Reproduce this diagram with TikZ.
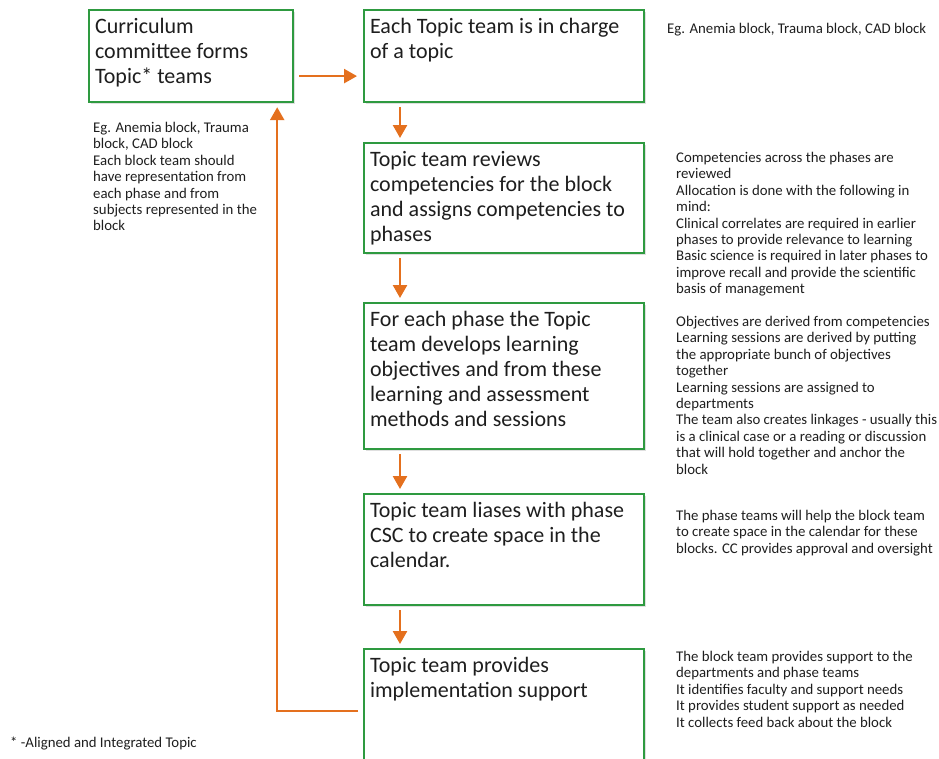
\documentclass[tikz,border=0pt]{standalone}
\usepackage{fontspec}
\setmainfont{Carlito}
\usetikzlibrary{arrows.meta,shadows}
\definecolor{boxgreen}{RGB}{46,154,64}
\definecolor{floworange}{RGB}{228,112,30}
\definecolor{inkgray}{RGB}{30,30,30}
\newcommand{\boxtxt}[3]{\parbox[t][#1pt][t]{#2pt}{\fontsize{22}{25}\selectfont\raggedright #3}}

\begin{document}
\begin{tikzpicture}[x=1pt,y=-1pt,
  stepbox/.style={draw=boxgreen, line width=2.2pt, fill=white, text=inkgray,
    inner xsep=6pt, inner ysep=8pt, anchor=north west,
    drop shadow={opacity=0.25, shadow xshift=1.5pt, shadow yshift=-1.5pt}},
  note/.style={anchor=north west, inner sep=0pt, align=left, text=inkgray,
    font=\fontsize{14.8}{16.4}\selectfont},
  flow/.style={draw=floworange, line width=2.5pt, -{Triangle[width=14pt,length=13pt]}}]
\useasboundingbox (0,0) rectangle (939,758);
%boxes
\node[stepbox] (b1) at (88,9) {\boxtxt{76}{192}{Curriculum\\committee forms\\Topic* teams}};
\node[stepbox] (b2) at (363,9) {\boxtxt{76}{268}{Each Topic team is in charge\\of a topic}};
\node[stepbox] (b3) at (363,142) {\boxtxt{94}{268}{Topic team reviews\\competencies for the block\\and assigns competencies to\\phases}};
\node[stepbox] (b4) at (363,302) {\boxtxt{130}{268}{For each phase the Topic\\team develops learning\\objectives and from these\\learning and assessment\\methods and sessions}};
\node[stepbox] (b5) at (363,493) {\boxtxt{95}{268}{Topic team liases with phase\\CSC to create space in the\\calendar.}};
\node[stepbox] (b6) at (363,648) {\boxtxt{104}{268}{Topic team provides\\implementation support}};
%arrows
\draw[flow] ([yshift=-20pt,xshift=5pt]b1.east) -- ([yshift=-20pt,xshift=-6pt]b2.west);
\draw[flow] ([shift={(37,4)}]b2.south west) -- ([shift={(37,-4)}]b3.north west);
\draw[flow] ([shift={(37,4)}]b3.south west) -- ([shift={(37,-4)}]b4.north west);
\draw[flow] ([shift={(37,4)}]b4.south west) -- ([shift={(37,-4)}]b5.north west);
\draw[flow] ([shift={(37,4)}]b5.south west) -- ([shift={(37,-4)}]b6.north west);
\draw[flow] ([shift={(-5,63)}]b6.north west) -| ([shift={(-17,4)}]b1.south east);
%notes
\node[note] (n1) at (93,122) {Eg. Anemia block, Trauma\\block, CAD block\\Each block team should\\have representation from\\each phase and from\\subjects represented in the\\block};
\node[note] (n2) at (667,23) {Eg. Anemia block, Trauma block, CAD block};
\node[note] (n3) at (676,152) {Competencies across the phases are\\reviewed\\Allocation is done with the following in\\mind:\\Clinical correlates are required in earlier\\phases to provide relevance to learning\\Basic science is required in later phases to\\improve recall and provide the scientific\\basis of management};
\node[note] (n4) at (676,316) {Objectives are derived from competencies\\Learning sessions are derived by putting\\the appropriate bunch of objectives\\together\\Learning sessions are assigned to\\departments\\The team also creates linkages - usually this\\is a clinical case or a reading or discussion\\that will hold together and anchor the\\block};
\node[note] (n5) at (676,510) {The phase teams will help the block team\\to create space in the calendar for these\\blocks. CC provides approval and oversight};
\node[note] (n6) at (676,651) {The block team provides support to the\\departments and phase teams\\It identifies faculty and support needs\\It provides student support as needed\\It collects feed back about the block};
\node[note] (foot) at (10,737) {* -Aligned and Integrated Topic};
\end{tikzpicture}
\end{document}
